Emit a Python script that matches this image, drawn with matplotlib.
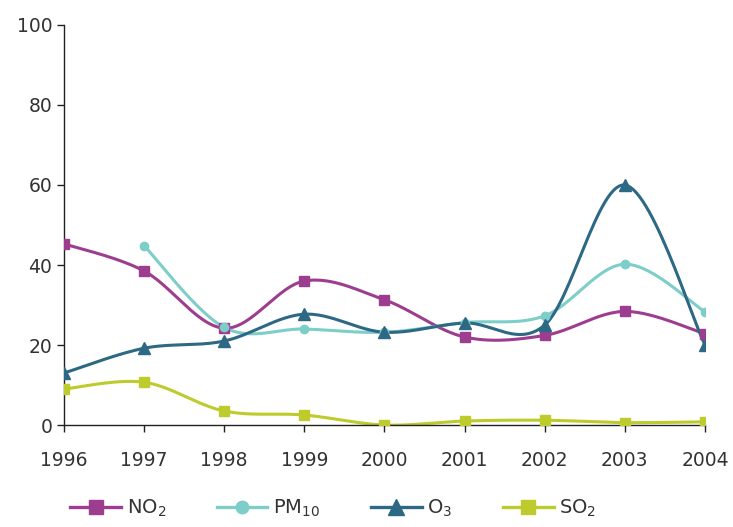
import numpy as np
import matplotlib.pyplot as plt

years = [1996, 1997, 1998, 1999, 2000, 2001, 2002, 2003, 2004]
no2 = [45.3, 38.5, 24.2, 36.0, 31.3, 22.0, 22.4, 28.4, 22.8]
pm10_years = [1997, 1998, 1999, 2000, 2001, 2002, 2003, 2004]
pm10 = [44.8, 24.4, 24.0, 23.2, 25.6, 27.3, 40.2, 28.3]
o3 = [13.0, 19.2, 21.0, 27.7, 23.2, 25.5, 25.0, 60.0, 20.0]
so2 = [9.0, 10.7, 3.5, 2.5, 0.0, 1.0, 1.2, 0.6, 0.8]


def smooth(x, y, n=30):
    # Excel-style smoothed line (Catmull-Rom bezier segments)
    x = np.asarray(x, float)
    y = np.asarray(y, float)
    px = np.concatenate([[x[0]], x, [x[-1]]])
    py = np.concatenate([[y[0]], y, [y[-1]]])
    xs, ys = [], []
    t = np.linspace(0, 1, n)
    for i in range(1, len(px) - 2):
        p0 = np.array([px[i], py[i]])
        p3 = np.array([px[i + 1], py[i + 1]])
        p1 = p0 + (p3 - np.array([px[i - 1], py[i - 1]])) / 6
        p2 = p3 - (np.array([px[i + 2], py[i + 2]]) - p0) / 6
        b = ((1 - t) ** 3)[:, None] * p0 + (3 * (1 - t) ** 2 * t)[:, None] * p1 \
            + (3 * (1 - t) * t ** 2)[:, None] * p2 + (t ** 3)[:, None] * p3
        xs.extend(b[:, 0])
        ys.extend(b[:, 1])
    return xs, ys


series = [
    (years, no2, "NO$_2$", "#9c3d8f", "s", 7),
    (pm10_years, pm10, "PM$_{10}$", "#7dcdc9", "o", 6),
    (years, o3, "O$_3$", "#2d6884", "^", 8),
    (years, so2, "SO$_2$", "#bdcb2c", "s", 7),
]

fig = plt.figure(figsize=(7.33, 5.27), dpi=100)
ax = fig.add_axes([0.0873, 0.1935, 0.8745, 0.7591])

for x, y, label, color, marker, ms in series:
    sx, sy = smooth(x, y)
    ax.plot(sx, sy, color=color, lw=2.2, zorder=2)
    ax.plot(x, y, linestyle="none", marker=marker, ms=ms, color=color, zorder=3)
    ax.plot([], [], color=color, lw=2.4, marker=marker, ms=ms + 3, label=label)

ax.set_xlim(1996, 2004)
ax.set_ylim(0, 100)
ax.set_xticks(years)
ax.set_yticks([0, 20, 40, 60, 80, 100])
for s in ["top", "right"]:
    ax.spines[s].set_visible(False)
for s in ["left", "bottom"]:
    ax.spines[s].set_color("#222222")
    ax.spines[s].set_linewidth(1.0)
ax.tick_params(direction="out", length=5, width=1, colors="#222222",
               labelcolor="#333333", labelsize=13.5)
ax.tick_params(axis="x", pad=14)

fig.legend(loc="lower center", bbox_to_anchor=(0.455, -0.018), ncol=4, frameon=False,
           fontsize=14, handlelength=2.6, handletextpad=0.3, columnspacing=2.6,
           labelcolor="#333333")

fig.savefig("out.png", dpi=100)
